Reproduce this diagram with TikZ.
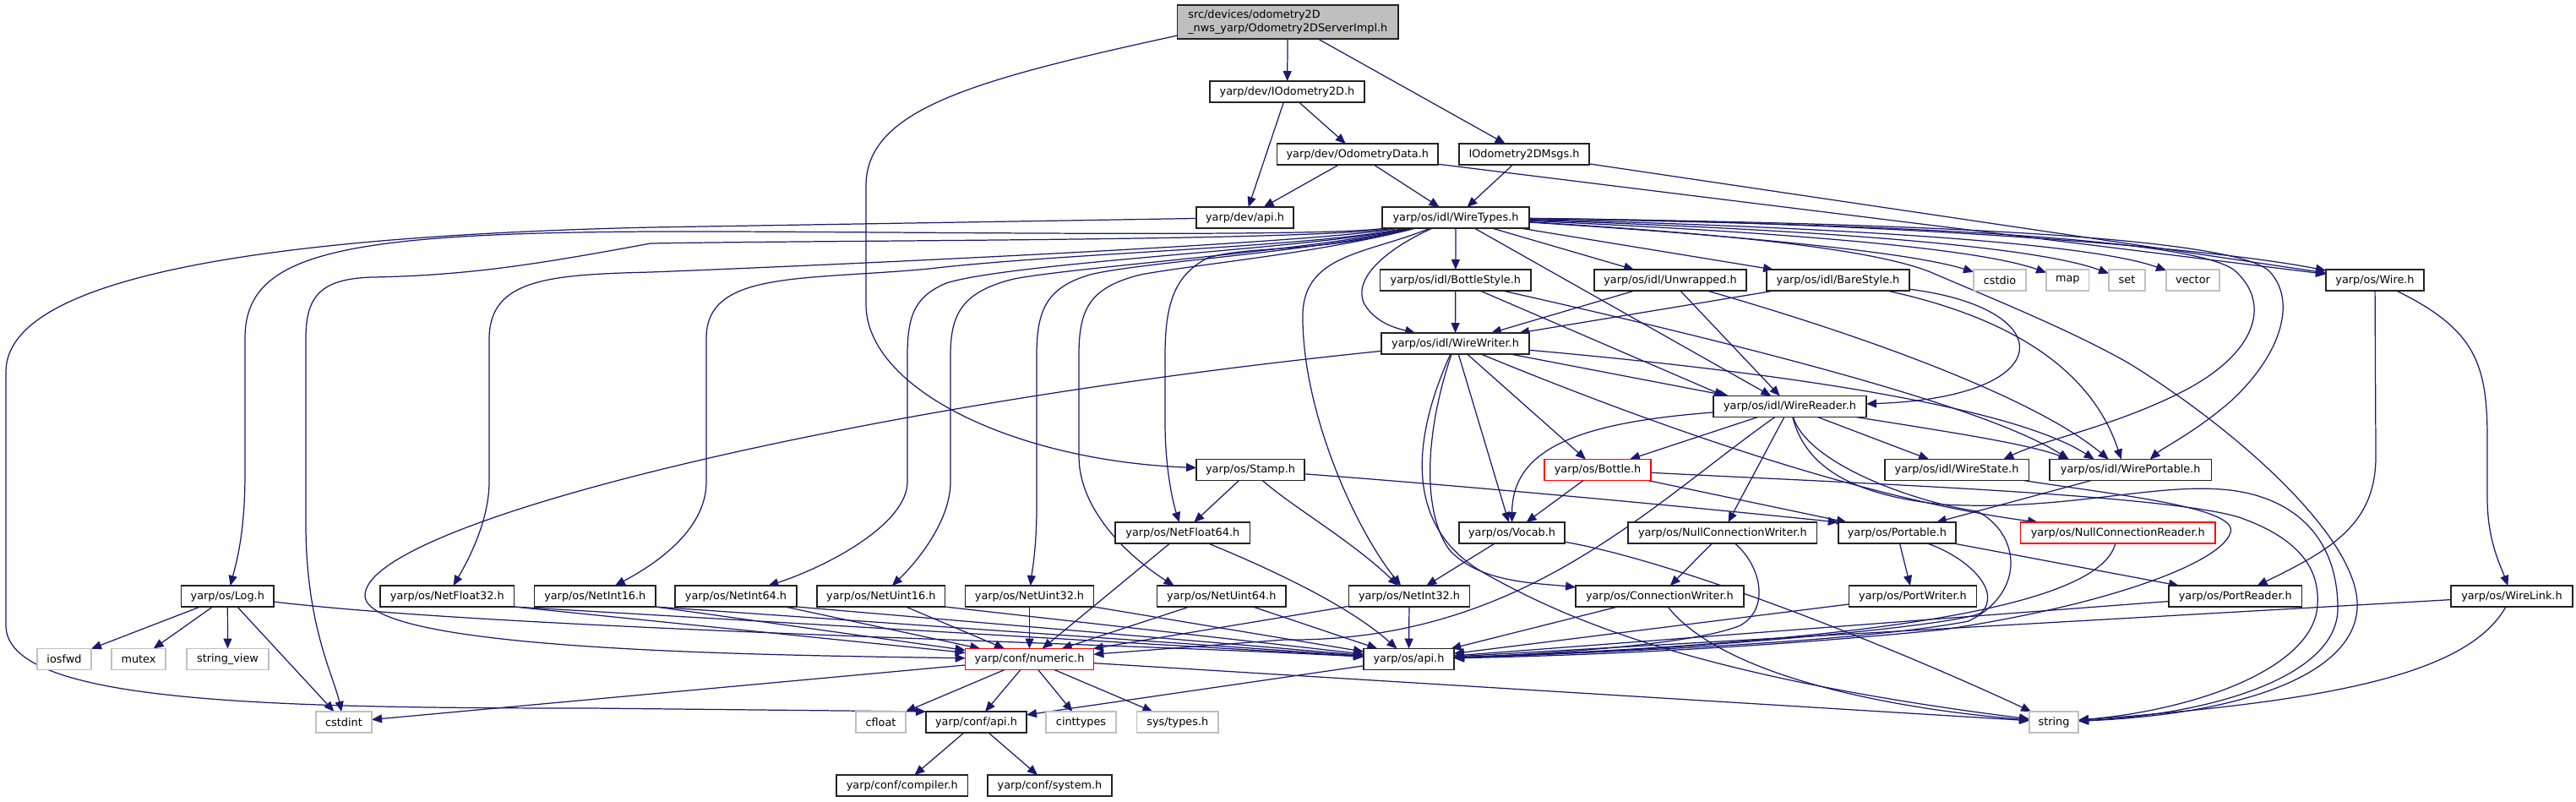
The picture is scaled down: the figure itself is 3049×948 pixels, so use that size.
\documentclass[tikz,border=0pt]{standalone}
\usepackage{fontspec}
\setmainfont{DejaVu Sans}
\usetikzlibrary{arrows.meta}
\pgfdeclarelayer{bg}
\pgfsetlayers{bg,main}
\definecolor{mblue}{HTML}{191970}
\definecolor{gsev}{HTML}{BFBFBF}
\definecolor{bord}{HTML}{222222}
\begin{document}
\begin{tikzpicture}[x=0.1mm,y=-0.1mm,
  filebox/.style={draw=bord, fill=white, line width=0.45pt, inner sep=0pt, outer sep=0pt, minimum height=2.5mm, font=\fontsize{3.65}{4.4}\selectfont},
  sysbox/.style={filebox, draw=gsev},
  redbox/.style={filebox, draw=red},
  rootbox/.style={filebox, fill=gsev, minimum height=4mm, align=left},
  dep/.style={draw=mblue, line width=0.35pt, -{Triangle[length=1.2mm,width=1mm]}}
]
\node[rootbox, minimum width=26.14mm] (top) at (1524.3,26) {src/devices/odometry2D\\\_nws\_yarp/Odometry2DServerImpl.h};
\node[filebox, minimum width=18.3mm] (iodo) at (1523.5,108.5) {yarp/dev/IOdometry2D.h};
\node[filebox, minimum width=19.05mm] (odata) at (1606.8,182.5) {yarp/dev/OdometryData.h};
\node[filebox, minimum width=15.4mm] (msgs) at (1804,182.5) {IOdometry2DMsgs.h};
\node[filebox, minimum width=11.5mm] (devapi) at (1473.5,257.5) {yarp/dev/api.h};
\node[filebox, minimum width=17.4mm] (wtypes) at (1723,257.5) {yarp/os/idl/WireTypes.h};
\node[filebox, minimum width=17.85mm] (bstyle) at (1722.8,331.5) {yarp/os/idl/BottleStyle.h};
\node[filebox, minimum width=18mm] (unwr) at (1977,331.5) {yarp/os/idl/Unwrapped.h};
\node[filebox, minimum width=16.9mm] (bare) at (2175.5,331.5) {yarp/os/idl/BareStyle.h};
\node[sysbox, minimum width=6.2mm] (cstdio) at (2367,331.5) {cstdio};
\node[sysbox, minimum width=5.05mm] (map) at (2447.3,331.5) {map};
\node[sysbox, minimum width=4.3mm] (set) at (2517.5,331.5) {set};
\node[sysbox, minimum width=6.3mm] (vector) at (2595.5,331.5) {vector};
\node[filebox, minimum width=11.6mm] (wire) at (2811,331.5) {yarp/os/Wire.h};
\node[filebox, minimum width=17.5mm] (wwriter) at (1722.5,406.5) {yarp/os/idl/WireWriter.h};
\node[filebox, minimum width=18.1mm] (wreader) at (2118.5,481) {yarp/os/idl/WireReader.h};
\node[filebox, minimum width=12.8mm] (stamp) at (1480,556) {yarp/os/Stamp.h};
\node[redbox, minimum width=12.6mm] (bottle) at (1891,556) {yarp/os/Bottle.h};
\node[filebox, minimum width=17.06mm] (wstate) at (2316,556) {yarp/os/idl/WireState.h};
\node[filebox, minimum width=19.14mm] (wport) at (2521.7,556) {yarp/os/idl/WirePortable.h};
\node[filebox, minimum width=15.95mm] (nf64) at (1399.8,630.5) {yarp/os/NetFloat64.h};
\node[filebox, minimum width=12.5mm] (vocab) at (1789.5,630.5) {yarp/os/Vocab.h};
\node[filebox, minimum width=22.36mm] (ncw) at (2038.8,630.5) {yarp/os/NullConnectionWriter.h};
\node[filebox, minimum width=13.93mm] (portable) at (2245.4,630.5) {yarp/os/Portable.h};
\node[redbox, minimum width=23.05mm] (ncr) at (2506.8,630.5) {yarp/os/NullConnectionReader.h};
\node[filebox, minimum width=10.94mm] (log) at (269.3,705.5) {yarp/os/Log.h};
\node[filebox, minimum width=15.85mm] (nf32) at (529.3,705.5) {yarp/os/NetFloat32.h};
\node[filebox, minimum width=14.34mm] (ni16) at (704.3,705.5) {yarp/os/NetInt16.h};
\node[filebox, minimum width=14.4mm] (ni64) at (871,705.5) {yarp/os/NetInt64.h};
\node[filebox, minimum width=15.15mm] (nu16) at (1042.8,705.5) {yarp/os/NetUint16.h};
\node[filebox, minimum width=15.18mm] (nu32) at (1218.5,705.5) {yarp/os/NetUint32.h};
\node[filebox, minimum width=15.25mm] (nu64) at (1445.8,705.5) {yarp/os/NetUint64.h};
\node[filebox, minimum width=14.3mm] (ni32) at (1668,705.5) {yarp/os/NetInt32.h};
\node[filebox, minimum width=19.87mm] (cw) at (1964.4,705.5) {yarp/os/ConnectionWriter.h};
\node[filebox, minimum width=15.1mm] (pw) at (2264,705.5) {yarp/os/PortWriter.h};
\node[filebox, minimum width=15.75mm] (pr) at (2645.8,705.5) {yarp/os/PortReader.h};
\node[filebox, minimum width=14.37mm] (wlink) at (2972.9,705.5) {yarp/os/WireLink.h};
\node[sysbox, minimum width=6.4mm] (iosfwd) at (76,780) {iosfwd};
\node[sysbox, minimum width=6.4mm] (mutex) at (164,780) {mutex};
\node[sysbox, minimum width=9.7mm] (sview) at (269.5,780) {string\_view};
\node[redbox, minimum width=15.18mm] (numeric) at (1218.5,780) {yarp/conf/numeric.h};
\node[filebox, minimum width=10.7mm] (osapi) at (1667.5,780) {yarp/os/api.h};
\node[sysbox, minimum width=6.6mm] (cstdint) at (407,854.5) {cstdint};
\node[sysbox, minimum width=5.9mm] (cfloat) at (1042.5,854.5) {cfloat};
\node[filebox, minimum width=11.9mm] (confapi) at (1155.5,854.5) {yarp/conf/api.h};
\node[sysbox, minimum width=8.3mm] (cinttypes) at (1279.5,854.5) {cinttypes};
\node[sysbox, minimum width=9.65mm] (systypes) at (1393.8,854.5) {sys/types.h};
\node[sysbox, minimum width=5.8mm] (string) at (2431,854.5) {string};
\node[filebox, minimum width=15.56mm] (compiler) at (1067.8,929.5) {yarp/conf/compiler.h};
\node[filebox, minimum width=14.7mm] (system) at (1242.5,929.5) {yarp/conf/system.h};

\begin{pgfonlayer}{bg}
\fill[white] (0,0) rectangle (3049,948);
\useasboundingbox (0,0) rectangle (3049,948);
% root
\draw[dep] (top) -- (iodo);
\draw[dep] (top) -- (msgs);
\draw[dep] ([yshift=-1.6mm]top.west) .. controls (1150,95) and (1025,130) .. (1025,220) -- (1025,360) .. controls (1025,460) and (1200,545) .. (stamp);
% IOdometry2D, OdometryData, Msgs
\draw[dep] (iodo) -- (devapi);
\draw[dep] (iodo) -- (odata);
\draw[dep] (odata) -- (devapi);
\draw[dep] (odata) -- (wtypes);
\draw[dep] (odata) -- (wire);
\draw[dep] (msgs) -- (wtypes);
\draw[dep] (msgs) -- (wire);
% dev/api
\draw[dep] (devapi) -- (770,269) .. controls (300,280) and (7,330) .. (7,440) -- (7,740) .. controls (7,830) and (300,838) .. (700,838) -- (confapi.north west);
% WireTypes, left fan
\draw[dep] (wtypes) .. controls (1560,282) and (1000,273) .. (770,274) .. controls (400,276) and (290,300) .. (290,400) -- (290,560) .. controls (290,630) and (280,665) .. (log);
\draw[dep] (wtypes) .. controls (1560,285) and (1000,284) .. (770,288) .. controls (650,310) and (560,326) .. (440,328) .. controls (380,330) and (362,350) .. (362,400) -- (362,620) .. controls (362,740) and (395,800) .. (cstdint);
\draw[dep] (wtypes) .. controls (1560,288) and (950,315) .. (770,322) .. controls (650,325) and (580,330) .. (579,400) -- (579,570) .. controls (579,620) and (550,670) .. (nf32);
\draw[dep] (wtypes) .. controls (1560,292) and (1250,300) .. (1100,318) .. controls (950,332) and (836,320) .. (836,400) -- (836,570) .. controls (836,620) and (790,660) .. (ni16);
\draw[dep] (wtypes) .. controls (1560,294) and (1200,310) .. (1120,335) .. controls (1085,350) and (1074,370) .. (1074,420) -- (1074,570) .. controls (1074,620) and (980,670) .. (ni64);
\draw[dep] (wtypes) .. controls (1560,296) and (1280,315) .. (1200,330) .. controls (1140,345) and (1125,370) .. (1125,420) -- (1125,570) .. controls (1125,620) and (1080,670) .. (nu16);
\draw[dep] (wtypes) .. controls (1560,298) and (1350,310) .. (1290,325) .. controls (1240,340) and (1227,365) .. (1227,420) -- (1227,600) .. controls (1227,650) and (1221,680) .. (nu32);
\draw[dep] (wtypes) .. controls (1560,300) and (1420,312) .. (1350,325) .. controls (1290,340) and (1277,365) .. (1277,420) -- (1277,540) .. controls (1277,600) and (1330,655) .. ([xshift=2mm]nu64.north west);
\draw[dep] (wtypes) .. controls (1560,300) and (1480,290) .. (1430,305) .. controls (1390,325) and (1379,360) .. (1379,420) -- (1379,500) .. controls (1379,560) and (1390,600) .. (nf64);
\draw[dep] (wtypes) .. controls (1620,300) and (1545,300) .. (1542,370) .. controls (1540,480) and (1600,620) .. (ni32);
\draw[dep] (wtypes) .. controls (1640,295) and (1600,330) .. (1615,360) .. controls (1630,385) and (1660,390) .. (wwriter);
% WireTypes, right side
\draw[dep] (wtypes) -- (bstyle);
\draw[dep] (wtypes) -- (wreader);
\draw[dep] (wtypes) -- (unwr);
\draw[dep] (wtypes) -- (bare);
\draw[dep] (wtypes) .. controls (2000,275) and (2250,295) .. (cstdio);
\draw[dep] (wtypes) .. controls (2050,272) and (2330,290) .. (map);
\draw[dep] (wtypes) .. controls (2100,270) and (2400,288) .. (set);
\draw[dep] (wtypes) .. controls (2150,268) and (2470,286) .. (vector);
\draw[dep] (wtypes) .. controls (2200,262) and (2600,290) .. (wire);
\draw[dep] (wtypes) .. controls (2100,280) and (2230,300) .. (2285,322) .. controls (2350,350) and (2450,390) .. (2520,430) .. controls (2650,510) and (2795,640) .. (2790,720) .. controls (2785,800) and (2650,845) .. (string);
\draw[dep] (wtypes) .. controls (2300,266) and (2600,285) .. (2645,320) .. controls (2690,360) and (2670,420) .. (2580,465) .. controls (2500,505) and (2420,520) .. ([xshift=-3mm]wstate.north east);
\draw[dep] (wtypes) .. controls (2300,264) and (2640,282) .. (2685,320) .. controls (2720,355) and (2700,420) .. (2640,475) .. controls (2600,510) and (2560,530) .. ([xshift=2.3mm]wport.north);
% BottleStyle, Unwrapped, BareStyle
\draw[dep] (bstyle) -- (wwriter);
\draw[dep] (bstyle) -- ([xshift=1.3mm]wreader.north west);
\draw[dep] (bstyle) .. controls (2050,405) and (2350,480) .. ([xshift=-7.3mm]wport.north);
\draw[dep] (unwr) -- (wwriter);
\draw[dep] (unwr) -- (wreader);
\draw[dep] (unwr) .. controls (2250,410) and (2420,480) .. ([xshift=-2.6mm]wport.north);
\draw[dep] (bare) -- (wwriter);
\draw[dep] (bare) .. controls (2440,365) and (2440,470) .. (wreader);
\draw[dep] (bare) .. controls (2400,380) and (2480,450) .. ([xshift=-1.1mm]wport.north);
% WireWriter
\draw[dep] (wwriter) .. controls (1000,480) and (430,620) .. (432,705) .. controls (434,770) and (900,775) .. (numeric);
\draw[dep] (wwriter) -- ([xshift=1.8mm]wreader.north west);
\draw[dep] (wwriter) .. controls (2100,440) and (2380,480) .. ([xshift=-4.3mm]wport.north);
\draw[dep] (wwriter) -- (bottle);
\draw[dep] (wwriter) -- (vocab);
\draw[dep] (wwriter) .. controls (1690,500) and (1680,600) .. (1715,650) .. controls (1750,690) and (1820,690) .. (cw);
\draw[dep] (wwriter) .. controls (1680,500) and (1650,620) .. (1760,680) .. controls (1850,730) and (2000,800) .. (string);
\draw[dep] (wwriter) .. controls (1950,500) and (2200,590) .. (ncr);
% WireReader
\draw[dep] (wreader) -- (bottle);
\draw[dep] (wreader) .. controls (1870,500) and (1790,530) .. (vocab);
\draw[dep] (wreader) .. controls (1950,600) and (1800,760) .. (1520,757) -- (numeric);
\draw[dep] (wreader) -- (ncw);
\draw[dep] (wreader) -- (wstate);
\draw[dep] (wreader) .. controls (2300,510) and (2400,525) .. ([xshift=-7.3mm]wport.north);
\draw[dep] (wreader) .. controls (2140,550) and (2270,595) .. (2340,605) .. controls (2390,630) and (2400,700) .. (2330,735) .. controls (2200,760) and (1900,772) .. (osapi);
\draw[dep] (wreader) .. controls (2135,545) and (2180,585) .. (2300,597) .. controls (2450,605) and (2550,570) .. (2640,580) .. controls (2720,590) and (2767,640) .. (2767,720) .. controls (2767,800) and (2620,845) .. (string);
% Bottle, Stamp, Vocab
\draw[dep] (bottle) -- (vocab);
\draw[dep] (bottle) -- (portable);
\draw[dep] (bottle) .. controls (2200,572) and (2560,585) .. (2650,612) .. controls (2730,640) and (2745,680) .. (2743,715) .. controls (2740,790) and (2600,840) .. (string);
\draw[dep] (stamp) -- (nf64);
\draw[dep] (stamp) .. controls (1530,600) and (1600,640) .. (ni32);
\draw[dep] (stamp) .. controls (1800,580) and (2100,610) .. (portable.north west);
\draw[dep] (vocab) -- (ni32);
\draw[dep] (vocab) .. controls (1990,665) and (2250,770) .. (string);
% Null connection, Portable, WirePortable, WireState
\draw[dep] (ncw) -- (cw);
\draw[dep] (ncw) .. controls (2085,670) and (2095,720) .. (2060,740) .. controls (2000,765) and (1800,775) .. (osapi);
\draw[dep] (portable) -- (pw);
\draw[dep] (portable) -- (pr);
\draw[dep] (portable) .. controls (2330,660) and (2370,700) .. (2345,725) .. controls (2320,740) and (2000,770) .. (osapi);
\draw[dep] (wport) -- (portable);
\draw[dep] (wstate) .. controls (2500,585) and (2650,600) .. (2640,630) .. controls (2630,665) and (2500,715) .. (2300,745) .. controls (2100,765) and (1900,775) .. (osapi);
\draw[dep] (ncr) .. controls (2485,720) and (2200,760) .. (osapi);
% ConnectionWriter, PortWriter, PortReader, WireLink, Wire
\draw[dep] (cw) -- (osapi);
\draw[dep] (cw) .. controls (2030,790) and (2200,835) .. (string);
\draw[dep] (pw) -- (osapi);
\draw[dep] (pr) -- (osapi);
\draw[dep] (wlink) -- (osapi);
\draw[dep] (wlink) .. controls (2920,800) and (2750,830) .. (string);
\draw[dep] (wire) -- (2812,540) .. controls (2812,620) and (2760,650) .. (pr);
\draw[dep] (wire) .. controls (2930,390) and (2944,430) .. (2944,520) -- (2944,590) .. controls (2944,640) and (2960,670) .. (wlink);
% Net types
\draw[dep] (nf32.south east) -- (numeric);
\draw[dep] (nf32.south east) -- (osapi);
\draw[dep] (ni16.south east) -- (numeric);
\draw[dep] (ni16.south east) -- (osapi);
\draw[dep] (ni64) -- (numeric);
\draw[dep] (ni64.south east) -- (osapi);
\draw[dep] (nu16) -- (numeric);
\draw[dep] (nu16.south east) -- (osapi);
\draw[dep] (nu32) -- (numeric);
\draw[dep] (nu32.south east) -- (osapi);
\draw[dep] (nu64) -- (numeric);
\draw[dep] (nu64) -- (osapi);
\draw[dep] (nf64) -- (numeric);
\draw[dep] (nf64) .. controls (1520,680) and (1600,720) .. (osapi);
\draw[dep] (ni32) -- (numeric);
\draw[dep] (ni32) -- (osapi);
% Log
\draw[dep] (log) -- (iosfwd);
\draw[dep] (log) -- (mutex);
\draw[dep] (log) -- (sview);
\draw[dep] (log) -- (cstdint);
\draw[dep] (log) .. controls (600,745) and (1300,760) .. (osapi);
% numeric, os/api, conf/api
\draw[dep] (numeric) -- (cstdint);
\draw[dep] (numeric) -- (cfloat);
\draw[dep] (numeric) -- (confapi);
\draw[dep] (numeric) -- (cinttypes);
\draw[dep] (numeric) -- (systypes);
\draw[dep] (numeric) -- (string);
\draw[dep] (osapi) -- (confapi);
\draw[dep] (confapi) -- (compiler);
\draw[dep] (confapi) -- (system);
\end{pgfonlayer}
\end{tikzpicture}
\end{document}
